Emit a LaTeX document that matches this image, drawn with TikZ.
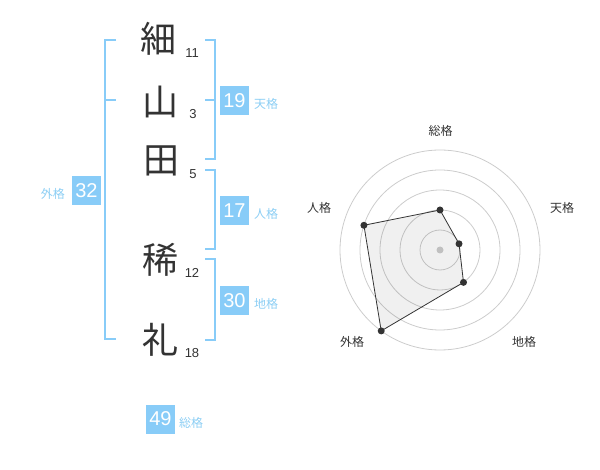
\documentclass[tikz,border=0pt]{standalone}
\usepackage{fontspec}
\setmainfont{Liberation Sans}
\newfontfamily\jpfont{Noto Sans CJK JP}
\definecolor{kakublue}{HTML}{88CCF8}
\definecolor{labelblue}{HTML}{8CCEF4}
\definecolor{inkgray}{HTML}{333333}
\definecolor{ringgray}{HTML}{CCCCCC}
\tikzset{
  kanji/.style={text=inkgray,font=\jpfont\fontsize{36}{36}\selectfont,inner sep=0pt},
  strokes/.style={text=inkgray,font=\fontsize{13}{13}\selectfont,inner sep=0pt},
  kakubox/.style={fill=kakublue,text=white,minimum size=29pt,inner sep=0pt,font=\fontsize{20}{20}\selectfont},
  kakulabel/.style={text=labelblue,font=\jpfont\fontsize{12}{12}\selectfont,inner sep=0pt},
  bracket/.style={draw=kakublue,line width=2pt},
  ring/.style={draw=ringgray,line width=0.8pt},
  axislabel/.style={text=inkgray,font=\jpfont\fontsize{12}{12}\selectfont,inner sep=0pt},
  dot/.style={circle,fill=inkgray,inner sep=0pt,minimum size=7pt},
}
\begin{document}
\begin{tikzpicture}[x=1pt,y=-1pt]
\useasboundingbox (0,0) rectangle (600,470);
% name characters and stroke counts
\node[kanji](K1) at (158,39){細};
\node[strokes](N1) at (192,53){11};
\node[kanji](K2) at (160,102){山};
\node[strokes](N2) at (193,114){3};
\node[kanji](K3) at (161,161){田};
\node[strokes](N3) at (193,174){5};
\node[kanji](K4) at (160,260){稀};
\node[strokes](N4) at (192,273){12};
\node[kanji](K5) at (160,340){礼};
\node[strokes](N5) at (192,353){18};
% brackets
\draw[bracket] (116,40) -- (105,40) -- (105,339) -- (116,339);
\draw[bracket] (105,100) -- (116,100);
\draw[bracket] (205,40) -- (215,40) -- (215,159) -- (205,159);
\draw[bracket] (205,100) -- (215,100);
\draw[bracket] (205,170) -- (215,170) -- (215,249) -- (205,249);
\draw[bracket] (205,259) -- (215,259) -- (215,340) -- (205,340);
% totals
\node[kakubox](TEN) at (234.5,100.5){19};
\node[kakulabel,anchor=west](TENL) at (254,104){天格};
\node[kakubox](JIN) at (234.5,210.5){17};
\node[kakulabel,anchor=west](JINL) at (254,214){人格};
\node[kakubox](CHI) at (234.5,300.5){30};
\node[kakulabel,anchor=west](CHIL) at (254,304){地格};
\node[kakubox](GAI) at (86.5,190.5){32};
\node[kakulabel,anchor=east](GAIL) at (65,194){外格};
\node[kakubox](SOU) at (160.5,419){49};
\node[kakulabel,anchor=west](SOUL) at (179,423){総格};
% radar chart
\begin{scope}[shift={(440,250)},yscale=-1]
\foreach \r in {20,40,60,80,100}
  \draw[ring] (0,0) circle (\r);
\fill[ringgray] (0,0) circle (3.5);
\coordinate (R1) at (90:40);
\coordinate (R2) at (18:20);
\coordinate (R3) at (-54:40);
\coordinate (R4) at (-126:100);
\coordinate (R5) at (162:80);
\draw[draw=inkgray,line width=0.8pt,fill=black,fill opacity=0.06] (R1) -- (R2) -- (R3) -- (R4) -- (R5) -- cycle;
\foreach \p in {R1,R2,R3,R4,R5}
  \node[dot] at (\p){};
\end{scope}
\node[axislabel](A1) at (440.5,131){総格};
\node[axislabel](A2) at (562,208){天格};
\node[axislabel](A3) at (524,342){地格};
\node[axislabel](A4) at (352,342){外格};
\node[axislabel](A5) at (319,208){人格};
\end{tikzpicture}
\end{document}
